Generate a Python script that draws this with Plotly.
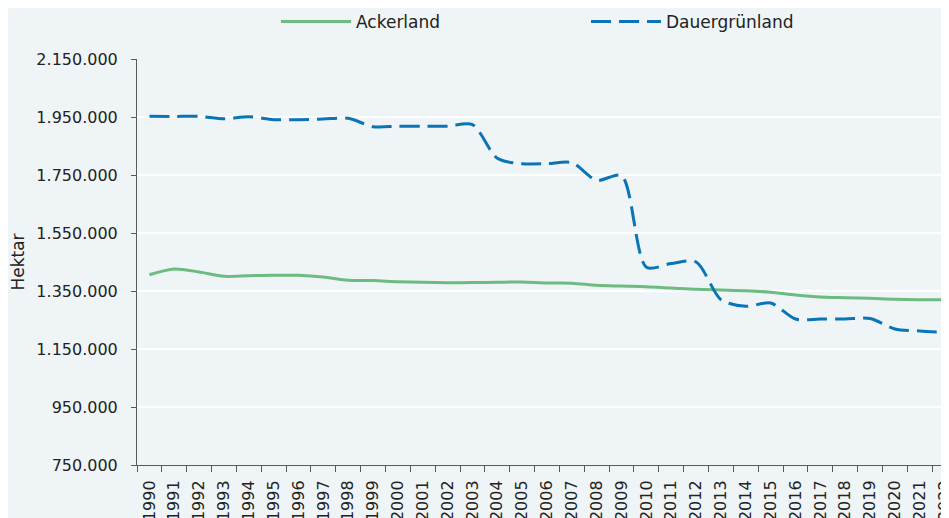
import plotly.graph_objects as go

years = [str(y) for y in range(1990, 2023)]

ackerland = [1406000, 1426000, 1415500, 1400700, 1402800, 1404000, 1404000, 1398000,
             1386800, 1386000, 1382000, 1380000, 1378600, 1379000, 1380000, 1381000,
             1377600, 1377000, 1369600, 1367000, 1364800, 1360300, 1355700, 1353400,
             1351100, 1345500, 1336200, 1329300, 1327000, 1324700, 1321300, 1320100,
             1320000]

dauergruenland = [1952400, 1952000, 1952000, 1944200, 1951000, 1940800, 1940800, 1943100,
                  1945400, 1916700, 1918000, 1918000, 1918000, 1924000, 1807500, 1789000,
                  1789000, 1792500, 1731600, 1747700, 1432000, 1445000, 1450000, 1320000,
                  1297100, 1308600, 1253400, 1253400, 1253400, 1255000, 1219000, 1212000,
                  1207500]

y_ticks = [750000, 950000, 1150000, 1350000, 1550000, 1750000, 1950000, 2150000]

FONT = "DejaVu Sans"
TXT = "#222222"
fig = go.Figure()
fig.add_trace(go.Scatter(
    x=years, y=ackerland, name="Ackerland", mode="lines",
    line=dict(color="#6DBB80", width=3, shape="spline", smoothing=0.8),
))
fig.add_trace(go.Scatter(
    x=years, y=dauergruenland, name="Dauergrünland", mode="lines",
    line=dict(color="#0A75B6", width=3, shape="spline", smoothing=0.8, dash="20px,8px"),
))

fig.update_layout(
    width=949, height=518,
    margin=dict(l=129, r=0, t=51, b=61, autoexpand=False),
    paper_bgcolor="#EFF5F6", plot_bgcolor="#EFF5F6",
    separators=",.",
    font=dict(family=FONT, size=16, color=TXT),
    showlegend=True,
    legend=dict(
        orientation="h", xref="container", yref="container",
        x=268 / 949, y=1 - 14 / 518, xanchor="left", yanchor="middle",
        itemwidth=70, entrywidth=225, entrywidthmode="pixels",
        bgcolor="rgba(0,0,0,0)", font=dict(family=FONT, size=17, color=TXT),
    ),
    xaxis=dict(
        type="category", range=[-0.5, 32.5], tickangle=-90,
        tickson="boundaries", ticks="outside", ticklen=6, tickcolor="#595959",
        showline=True, linecolor="#595959", linewidth=1,
        showgrid=False, automargin=False, ticklabelstandoff=8,
        tickfont=dict(family=FONT, size=16, color=TXT),
    ),
    yaxis=dict(
        range=[750000, 2150000], tickvals=y_ticks, tickformat=",d",
        ticks="outside", ticklen=5, tickcolor="#595959",
        showline=True, linecolor="#595959", linewidth=1,
        showgrid=True, gridcolor="#FFFFFF", gridwidth=2,
        zeroline=False, automargin=False, ticklabelstandoff=10,
        title=dict(text="Hektar", standoff=14, font=dict(family=FONT, size=17, color=TXT)),
        tickfont=dict(family=FONT, size=16, color=TXT),
    ),
)

fig.write_html("out.html")
